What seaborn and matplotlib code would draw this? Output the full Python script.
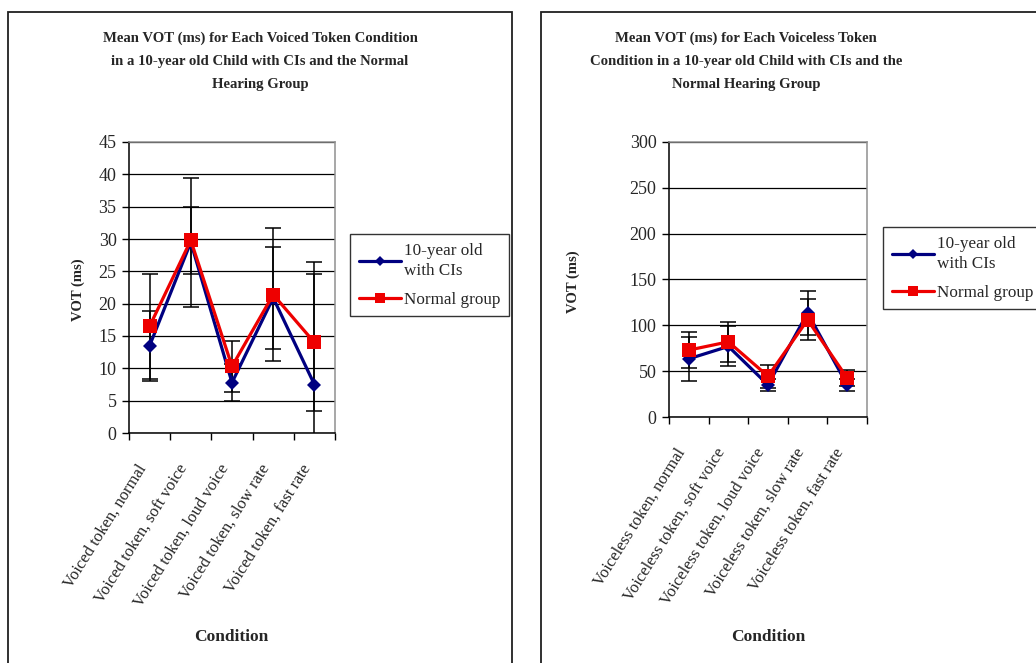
import numpy as np
import pandas as pd
import matplotlib
matplotlib.use("Agg")
import matplotlib.pyplot as plt
import seaborn as sns
from matplotlib.lines import Line2D
from matplotlib.patches import Rectangle
from matplotlib.transforms import ScaledTranslation

# ---- data -------------------------------------------------------------
voiced_conditions = ["Voiced token, normal", "Voiced token, soft voice",
                     "Voiced token, loud voice", "Voiced token, slow rate",
                     "Voiced token, fast rate"]
voiced_ci = [13.5, 29.5, 7.8, 20.9, 7.5]
voiced_ci_err = [5.4, 10.0, 2.9, 7.9, 19.0]
voiced_normal = [16.5, 29.8, 10.3, 21.4, 14.0]
voiced_normal_err = [8.1, 5.2, 4.0, 10.3, 10.6]

voiceless_conditions = ["Voiceless token, normal", "Voiceless token, soft voice",
                        "Voiceless token, loud voice", "Voiceless token, slow rate",
                        "Voiceless token, fast rate"]
voiceless_ci = [63.5, 77.0, 35.0, 113.5, 35.0]
voiceless_ci_err = [24.0, 21.8, 7.0, 24.0, 7.0]
voiceless_normal = [73.0, 82.0, 44.5, 106.0, 42.5]
voiceless_normal_err = [19.2, 21.5, 12.5, 22.5, 9.0]

series_labels = ["10-year old\nwith CIs", "Normal group"]
titles = ["Mean VOT (ms) for Each Voiced Token Condition\n"
          "in a 10-year old Child with CIs and the Normal\nHearing Group",
          "Mean VOT (ms) for Each Voiceless Token\n"
          "Condition in a 10-year old Child with CIs and the\nNormal Hearing Group"]

BLUE = "#000080"
RED = "#EE0000"

sns.set_style("white")
plt.rcParams["font.family"] = ["Liberation Serif", "DejaVu Serif"]

W, H = 1036, 663
fig = plt.figure(figsize=(W / 100, H / 100), dpi=100)


def px_box(x0, y0, x1, y1):
    """Axes rectangle from pixel coordinates (top-left origin)."""
    return [x0 / W, 1 - y1 / H, (x1 - x0) / W, (y1 - y0) / H]


def draw_panel(ax, conditions, ci, ci_err, normal, normal_err, ymax, ystep):
    pos = np.arange(len(conditions))
    df = pd.DataFrame({"pos": np.concatenate([pos, pos]),
                       "vot": ci + normal,
                       "group": [series_labels[0]] * len(pos) + [series_labels[1]] * len(pos)})
    for vals, errs in ((ci, ci_err), (normal, normal_err)):
        ax.errorbar(pos, vals, yerr=errs, fmt="none", ecolor="black",
                    elinewidth=1.1, capsize=6, capthick=1.1, zorder=2)
    sns.lineplot(data=df[df.group == series_labels[0]], x="pos", y="vot",
                 color=BLUE, marker="D", markersize=7.6, markeredgewidth=0,
                 linewidth=2.3, legend=False, ax=ax, zorder=3)
    sns.lineplot(data=df[df.group == series_labels[1]], x="pos", y="vot",
                 color=RED, marker="s", markersize=10.4, markeredgewidth=0,
                 linewidth=2.3, legend=False, ax=ax, zorder=4)

    ax.set_xlim(-0.5, len(conditions) - 0.5)
    ax.set_ylim(0, ymax)
    ax.set_yticks(np.arange(0, ymax + ystep / 2, ystep))
    ax.yaxis.grid(True, color="black", linewidth=0.9)
    ax.set_axisbelow(True)
    ax.set_xticks(pos)
    ax.set_xticklabels(conditions, rotation=58, ha="right", va="bottom",
                       rotation_mode="anchor", fontsize=12)
    shift = ScaledTranslation(-5 / 100, 0, fig.dpi_scale_trans)
    for lab in ax.get_xticklabels():
        lab.set_transform(lab.get_transform() + shift)
    ax.set_xticks(np.arange(-0.5, len(conditions)), minor=True)
    ax.tick_params(axis="x", which="major", length=0, pad=26.5)
    ax.tick_params(axis="x", which="minor", length=5, width=1, color="black",
                   direction="out", bottom=True)
    ax.tick_params(axis="y", length=5, width=1, color="black", direction="out",
                   left=True, labelsize=13, pad=4)
    for side in ("left", "bottom"):
        ax.spines[side].set_color("black")
        ax.spines[side].set_linewidth(1.1)
    for side in ("top", "right"):
        ax.spines[side].set_visible(True)
        ax.spines[side].set_color("#909090")
        ax.spines[side].set_linewidth(1.1)
    ax.set_xlabel("")
    ax.set_ylabel("")


ax1 = fig.add_axes(px_box(129, 142, 335, 433))
draw_panel(ax1, voiced_conditions, voiced_ci, voiced_ci_err,
           voiced_normal, voiced_normal_err, 45, 5)

ax2 = fig.add_axes(px_box(669, 142, 867, 417))
draw_panel(ax2, voiceless_conditions, voiceless_ci, voiceless_ci_err,
           voiceless_normal, voiceless_normal_err, 300, 50)

# chart frames
fig.add_artist(Rectangle((8 / W, -0.05), 504 / W, 1.05 - 12 / H,
                         transform=fig.transFigure, fill=False,
                         edgecolor="#202020", linewidth=1.3))
fig.add_artist(Rectangle((541 / W, -0.05), 0.6, 1.05 - 12 / H,
                         transform=fig.transFigure, fill=False,
                         edgecolor="#202020", linewidth=1.3))

# titles and axis labels
for xc, t in ((260, titles[0]), (746, titles[1])):
    fig.text(xc / W, 1 - 32 / H, t, ha="center", va="top", fontsize=10.6,
             fontweight="bold", linespacing=1.97)
for xc, yc in ((78, 290), (573, 282)):
    fig.text(xc / W, 1 - yc / H, "VOT (ms)", ha="center", va="center",
             rotation=90, fontsize=10.5, fontweight="bold")
for xc in (231, 768):
    fig.text(xc / W, 1 - 637 / H, "Condition", ha="center", va="center",
             fontsize=12.5, fontweight="bold")

# legends
handles = [Line2D([], [], color=BLUE, marker="D", markersize=5.5, linewidth=2.3,
                  markeredgewidth=0),
           Line2D([], [], color=RED, marker="s", markersize=6.5, linewidth=2.3,
                  markeredgewidth=0)]
for (x0, y0) in ((350, 234), (883, 227)):
    leg = fig.legend(handles, series_labels, loc="upper left",
                     bbox_to_anchor=(x0 / W, 1 - y0 / H), borderaxespad=0,
                     frameon=True, fancybox=False, edgecolor="black",
                     fontsize=12.3, handlelength=2.5, handletextpad=0.15,
                     labelspacing=0.75, borderpad=0.5)
    leg.get_frame().set_linewidth(1.0)
    for txt in leg.get_texts():
        txt.set_linespacing(1.35)

fig.savefig("out.png", dpi=100)
